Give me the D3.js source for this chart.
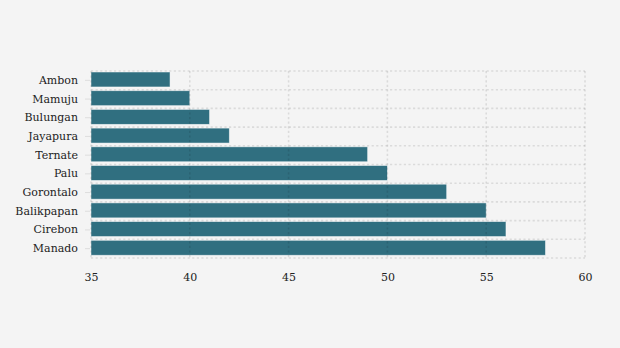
<!DOCTYPE html>
<html>
<head>
<meta charset="utf-8">
<script src="https://cdn.jsdelivr.net/npm/d3@7"></script>
<style>
  html, body { margin: 0; padding: 0; background: #f4f4f4; }
  svg { display: block; }
  text { font-family: "DejaVu Serif", serif; }
</style>
</head>
<body>
<svg id="chart" width="620" height="348"></svg>
<script>
// Cities, top to bottom
const cities = ["Ambon", "Mamuju", "Bulungan", "Jayapura", "Ternate", "Palu", "Gorontalo", "Balikpapan", "Cirebon", "Manado"];
// Value per city
const values = [39, 40, 41, 42, 49, 50, 53, 55, 56, 58];
// X axis ticks
const xTicks = [35, 40, 45, 50, 55, 60];

const data = cities.map((c, i) => ({ city: c, value: values[i] }));

const margin = { top: 71, right: 35, bottom: 90, left: 91 };
const width = 620, height = 348;
const svg = d3.select("#chart");

const x = d3.scaleLinear().domain([35, 60]).range([margin.left, width - margin.right]);
const y = d3.scaleBand().domain(cities).range([margin.top, height - margin.bottom]).padding(0);

const barColor = "#306f80";
const gridColor = "rgba(0,0,0,0.1)";

// Bars
svg.append("g").selectAll("rect")
  .data(data)
  .join("rect")
  .attr("x", x(35))
  .attr("y", d => y(d.city) + 1)
  .attr("width", d => x(d.value) - x(35))
  .attr("height", y.bandwidth() * 0.8)
  .attr("fill", barColor)
  .attr("stroke", "rgba(255,255,255,0.6)")
  .attr("stroke-width", 0.8);

// Dotted grid lines
const grid = svg.append("g")
  .attr("stroke", gridColor)
  .attr("stroke-width", 1.6)
  .attr("stroke-dasharray", "2.2,2.4");

grid.selectAll("line.v")
  .data(xTicks)
  .join("line")
  .attr("class", "v")
  .attr("x1", d => x(d)).attr("x2", d => x(d))
  .attr("y1", margin.top).attr("y2", height - margin.bottom);

const hLines = cities.map(c => y(c)).concat([height - margin.bottom]);
grid.selectAll("line.h")
  .data(hLines)
  .join("line")
  .attr("class", "h")
  .attr("x1", margin.left).attr("x2", width - margin.right)
  .attr("y1", d => d).attr("y2", d => d);

// X axis
const xAxis = d3.axisBottom(x).tickValues(xTicks).tickSize(0).tickPadding(15).tickFormat(d3.format("d"));
const gx = svg.append("g")
  .attr("transform", `translate(0,${height - margin.bottom})`)
  .call(xAxis);
gx.select(".domain").remove();
gx.selectAll("text").attr("font-size", 11).attr("fill", "#222").attr("font-family", "DejaVu Serif, serif");

// Y axis
const yAxis = d3.axisLeft(y).tickSize(5).tickPadding(7);
const gy = svg.append("g")
  .attr("transform", `translate(${margin.left - 1},0)`)
  .call(yAxis);
gy.select(".domain").remove();
gy.selectAll(".tick").attr("transform", d => `translate(0,${y(d) + y.bandwidth() * 0.5})`);
gy.selectAll(".tick line").attr("stroke", "#ddd");
gy.selectAll("text").attr("font-size", 11).attr("fill", "#222").attr("font-family", "DejaVu Serif, serif");
</script>
</body>
</html>
